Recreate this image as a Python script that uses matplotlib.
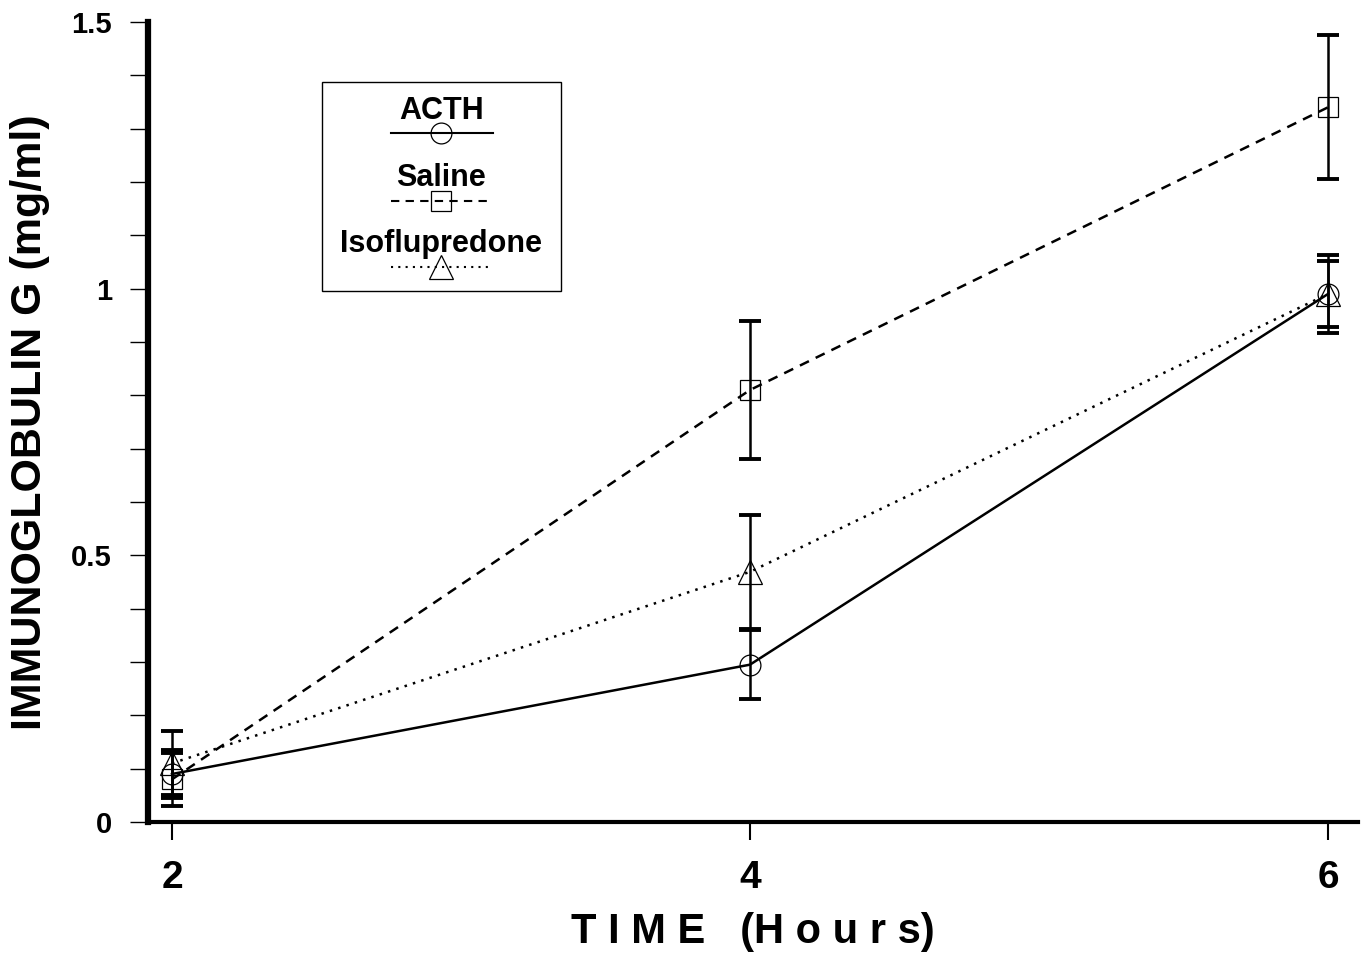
import matplotlib
matplotlib.use("Agg")
import matplotlib.pyplot as plt
from matplotlib.lines import Line2D
from matplotlib.patches import Rectangle

# ---- data ----
hours = [2, 4, 6]
acth = [0.09, 0.295, 0.99]
acth_err = [0.045, 0.065, 0.073]
saline = [0.08, 0.81, 1.34]
saline_err = [0.05, 0.13, 0.135]
iso = [0.11, 0.469, 0.99]
iso_err = [0.06, 0.107, 0.061]
series_names = ["ACTH", "Saline", "Isoflupredone"]
y_major = [0, 0.5, 1, 1.5]
y_major_labels = ["0", "0.5", "1", "1.5"]

plt.rcParams['font.family'] = ['Liberation Sans', 'DejaVu Sans']

fig = plt.figure(figsize=(13.65, 9.56), dpi=100)
ax = fig.add_axes([148/1365, 134/956, 1210/1365, 800/956])

styles = [
    dict(ls='-', marker='o', ms=15, lw=1.8),
    dict(ls=(0, (4, 3)), marker='s', ms=14, lw=1.8),
    dict(ls=(0, (1, 2.5)), marker='^', ms=17, lw=1.8),
]
data = [(acth, acth_err), (saline, saline_err), (iso, iso_err)]
for (vals, errs), st in zip(data, styles):
    ax.errorbar(hours, vals, yerr=errs, color='black', ls='none',
                elinewidth=1.8, capsize=8, capthick=2.8, zorder=2)
    ax.plot(hours, vals, color='black', linestyle=st['ls'], lw=st['lw'],
            marker=st['marker'], ms=st['ms'], mfc='none', mec='black',
            mew=0.9, zorder=3)

ax.set_xlim(1.917, 6.104)
ax.set_ylim(0, 1.5)
ax.set_xticks(hours)
ax.set_xticklabels([str(h) for h in hours], fontsize=28, fontweight='bold')
ax.set_yticks(y_major)
ax.set_yticklabels(y_major_labels, fontsize=21, fontweight='bold')
ax.set_yticks([i / 10 for i in range(16) if i % 5 != 0], minor=True)
ax.tick_params(axis='y', which='both', direction='out', length=13, width=1.0, pad=13)
ax.tick_params(axis='x', which='major', direction='out', length=13, width=1.5, pad=14)

for s in ['top', 'right']:
    ax.spines[s].set_visible(False)
ax.spines['left'].set_linewidth(4.5)
ax.spines['bottom'].set_linewidth(3)

ax.set_ylabel("IMMUNOGLOBULIN G (mg/ml)", fontsize=31, fontweight='bold')
ax.yaxis.set_label_coords(-0.081, 0.5)
ax.set_xlabel("T I M E   (H o u r s)", fontsize=30, fontweight='bold', labelpad=12)

# ---- legend drawn as a box with titles above samples ----
tr = ax.transAxes
ax.add_patch(Rectangle((0.1438, 0.664), 0.1975, 0.261, transform=tr,
                       fill=False, ec='black', lw=1.0, zorder=5))
text_y = [0.889, 0.805, 0.722]
line_y = [0.861, 0.776, 0.694]
for name, st, ty, ly in zip(series_names, styles, text_y, line_y):
    ax.text(0.2425, ty, name, transform=tr, ha='center', va='center',
            fontsize=22, fontweight='bold', zorder=6)
    ax.add_line(Line2D([0.201, 0.285], [ly, ly], transform=tr, color='black',
                       linestyle=st['ls'], lw=1.5, zorder=6))
    ax.add_line(Line2D([0.2425], [ly], transform=tr, color='black', ls='none',
                       marker=st['marker'], ms=st['ms'], mfc='none', mec='black',
                       mew=0.9, zorder=6))

fig.savefig("out.png", dpi=100)
